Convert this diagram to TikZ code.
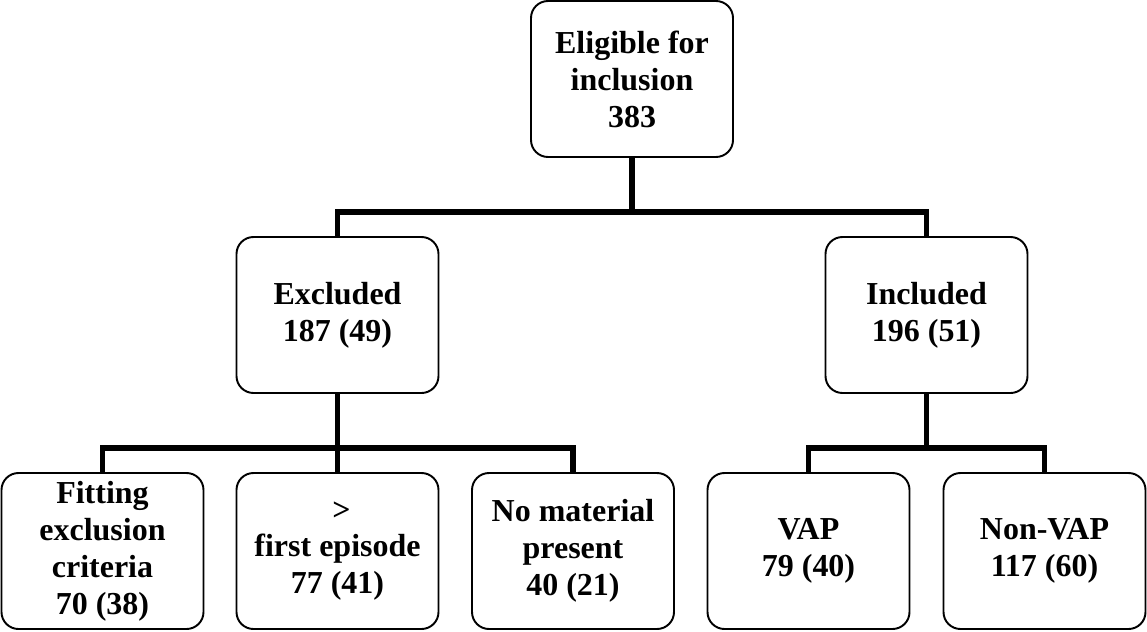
\documentclass[tikz,border=0pt]{standalone}
\usepackage{fontspec}
\setmainfont{Liberation Serif}
\newcommand{\boxfont}{\fontsize{18.2}{21}\selectfont\bfseries}

\tikzset{
    box/.style={draw, line width=1.1pt, rounded corners=0.34cm,
      minimum width=4.04cm, minimum height=3.12cm, inner sep=0pt,
      align=center, font=\boxfont},
    link/.style={line width=3.2pt}
}

\begin{document}
\begin{tikzpicture}[scale=1.0]
    \useasboundingbox (0,0) rectangle (22.94,-12.64);
    \node[box] (elig) at (12.64,-1.58) {Eligible for\\inclusion\\383};
    \node[box] (excl) at (6.75,-6.30) {Excluded\\187 (49)};
    \node[box] (incl) at (18.53,-6.30) {Included\\196 (51)};
    \node[box] (fit) at (2.05,-11.02) {Fitting\\exclusion\\criteria\\70 (38)};
    \node[box] (first) at (6.75,-11.02) {\ >\\first episode\\77 (41)};
    \node[box] (nomat) at (11.46,-11.02) {No material\\present\\40 (21)};
    \node[box] (vap) at (16.17,-11.02) {VAP\\79 (40)};
    \node[box] (nonvap) at (20.89,-11.02) {Non-VAP\\117 (60)};
    \draw[link] (elig.south) -- ++(0,-1.08) -| (excl.north);
    \draw[link] (elig.south) -- ++(0,-1.08) -| (incl.north);
    \draw[link] (excl.south) -- ++(0,-1.08) -| (fit.north);
    \draw[link] (excl.south) -- ++(0,-1.08) -| (first.north);
    \draw[link] (excl.south) -- ++(0,-1.08) -| (nomat.north);
    \draw[link] (incl.south) -- ++(0,-1.08) -| (vap.north);
    \draw[link] (incl.south) -- ++(0,-1.08) -| (nonvap.north);
\end{tikzpicture}
\end{document}
